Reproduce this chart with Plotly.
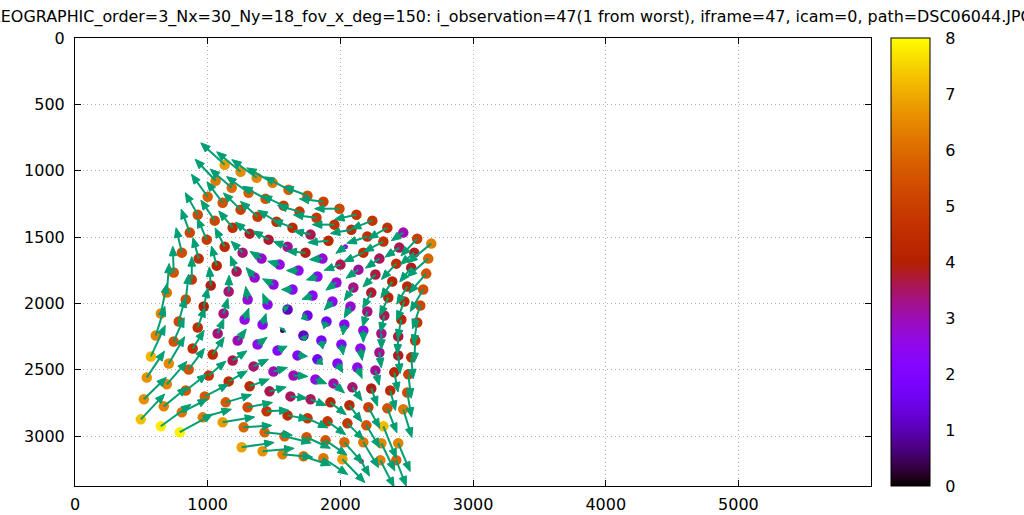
import math
import plotly.graph_objects as go

TITLE = ("LENSMODEL_SPLINED_STEREOGRAPHIC_order=3_Nx=30_Ny=18_fov_x_deg=150: "
         "i_observation=47(1 from worst), iframe=47, icam=0, path=DSC06044.JPG")
X_RANGE = [0, 5999]
Y_RANGE = [3375, 0]
X_TICKS = [0, 1000, 2000, 3000, 4000, 5000]
Y_TICKS = [0, 500, 1000, 1500, 2000, 2500, 3000]
CB_TICKS = [0, 1, 2, 3, 4, 5, 6, 7, 8]
CB_MAX = 8

# observed chessboard corners (image pixels), one list per board row
corner_x = [
    [1128, 1248, 1369, 1489, 1609, 1752, 1872, 1993, 2121, 2241, 2354, 2474, 2579, 2685],
    [1060, 1181, 1308, 1436, 1572, 1692, 1820, 1955, 2083, 2203, 2324, 2444, 2557, 2662],
    [1000, 1113, 1248, 1376, 1519, 1639, 1775, 1910, 2038, 2173, 2294, 2421, 2534, 2647],
    [925, 1053, 1188, 1316, 1459, 1602, 1737, 1865, 2000, 2136, 2264, 2391, 2504, 2624],
    [865, 993, 1128, 1263, 1406, 1542, 1684, 1827, 1970, 2098, 2233, 2361, 2482, 2602],
    [805, 932, 1068, 1218, 1354, 1496, 1639, 1790, 1940, 2076, 2203, 2331, 2459, 2579],
    [744, 880, 1023, 1158, 1301, 1451, 1602, 1752, 1895, 2030, 2173, 2309, 2436, 2564],
    [692, 835, 970, 1120, 1278, 1414, 1564, 1722, 1857, 2008, 2151, 2294, 2436, 2534],
    [647, 782, 925, 1075, 1226, 1376, 1527, 1677, 1827, 1978, 2128, 2264, 2406, 2512],
    [609, 744, 887, 1038, 1188, 1346, 1496, 1647, 1812, 1948, 2091, 2233, 2376, 2504],
    [572, 707, 857, 1008, 1158, 1316, 1466, 1624, 1775, 1925, 2068, 2211, 2354, 2474],
    [541, 692, 835, 978, 1136, 1301, 1444, 1602, 1752, 1903, 2053, 2196, 2324],
    [519, 669, 805, 963, 1113, 1271, 1429, 1579, 1745, 1888, 2030, 2173, 2309, 2436],
    [496, 647, 790, 1256, 1414, 1564, 1722, 1872, 2015, 2158, 2301, 2421],
]
corner_y = [
    [955, 1008, 1053, 1090, 1143, 1188, 1233, 1286, 1331, 1376, 1429, 1466, 1512, 1549],
    [1075, 1128, 1166, 1211, 1263, 1308, 1354, 1406, 1444, 1496, 1534, 1579, 1617, 1662],
    [1196, 1241, 1293, 1346, 1384, 1429, 1481, 1527, 1572, 1617, 1662, 1700, 1730, 1775],
    [1331, 1376, 1429, 1474, 1519, 1572, 1617, 1662, 1707, 1745, 1782, 1835, 1872, 1895],
    [1466, 1519, 1572, 1617, 1662, 1707, 1752, 1797, 1842, 1880, 1918, 1955, 1985, 2015],
    [1617, 1662, 1715, 1760, 1805, 1857, 1895, 1940, 1985, 2023, 2060, 2091, 2121, 2143],
    [1767, 1820, 1865, 1910, 1970, 2008, 2045, 2091, 2136, 2158, 2203, 2226, 2248, 2279],
    [1918, 1970, 2023, 2076, 2121, 2158, 2203, 2241, 2279, 2309, 2339, 2369, 2391, 2406],
    [2076, 2136, 2181, 2226, 2279, 2309, 2354, 2391, 2421, 2452, 2482, 2504, 2519, 2534],
    [2241, 2286, 2339, 2384, 2429, 2474, 2512, 2542, 2572, 2602, 2632, 2640, 2655, 2670],
    [2399, 2452, 2497, 2542, 2587, 2624, 2662, 2700, 2722, 2745, 2767, 2782, 2790, 2797],
    [2557, 2609, 2655, 2700, 2745, 2782, 2812, 2843, 2865, 2888, 2903, 2918, 2925],
    [2722, 2775, 2820, 2858, 2895, 2933, 2970, 3000, 3008, 3031, 3046, 3046, 3053, 3053],
    [2873, 2925, 2970, 3083, 3113, 3136, 3151, 3166, 3173, 3188, 3181, 3181],
]

# reprojection residuals (pixels)
resid_x = [
    [-5.0, -5.0, -5.2, -5.4, -5.0, -5.0, -5.0, -5.2, -4.6, -4.4, -4.0, -2.5, -3.4, -4.9],
    [-4.3, -4.5, -4.6, -4.8, -4.5, -4.6, -4.8, -4.6, -4.4, -4.3, -4.1, -3.0, -2.9, -4.4],
    [-3.4, -3.3, -3.6, -3.6, -3.9, -4.1, -3.5, -4.3, -2.0, -4.1, -2.9, -3.1, -2.4, -3.6],
    [-2.6, -2.9, -2.9, -3.0, -3.3, -3.0, -3.9, -2.7, -3.4, -2.6, -2.6, -2.4, -2.2, -2.7],
    [-1.8, -2.0, -2.0, -2.4, -2.4, -2.5, -2.5, -2.3, -2.2, -1.9, -1.8, -1.8, -1.6, -1.6],
    [-1.2, -1.2, -1.1, -1.3, -1.8, -2.3, -2.3, -2.2, -1.7, -1.3, -1.0, -0.8, -0.8, -0.8],
    [-0.2, 0.0, -0.3, 0.1, -0.4, -1.0, -0.9, -1.3, -0.6, -0.3, 0.0, 0.0, -0.2, -0.2],
    [0.5, 0.6, 0.9, 0.9, 0.9, 0.7, 0.3, 0.4, 0.3, 0.4, 0.4, 0.4, 0.4, 0.4],
    [1.3, 1.4, 1.5, 1.3, 1.8, 2.0, 2.0, 2.1, 1.1, 1.1, 1.0, 0.8, 0.8, 0.6],
    [1.9, 2.2, 2.4, 2.4, 3.0, 3.1, 2.9, 3.0, 2.4, 2.3, 2.0, 1.3, 1.1, 0.9],
    [3.0, 3.3, 3.3, 3.6, 3.9, 4.1, 3.5, 3.5, 3.3, 3.3, 2.6, 2.4, 2.0, 1.8],
    [3.7, 4.2, 4.4, 5.0, 5.4, 5.2, 4.7, 4.4, 4.3, 3.8, 3.4, 2.8, 2.7],
    [4.7, 4.9, 5.4, 6.0, 6.7, 5.9, 5.8, 5.6, 5.0, 4.5, 3.9, 3.2, 2.8, 2.5],
    [5.0, 6.3, 6.9, 6.8, 6.6, 6.3, 5.7, 5.1, 4.7, 1.7, 2.9, 2.1],
]
resid_y = [
    [-4.6, -4.2, -3.8, -3.1, -2.7, -1.9, -0.6, 0.0, 1.0, 1.7, 2.3, 1.7, 3.6, 4.0],
    [-4.5, -3.9, -3.4, -2.6, -2.1, -1.3, -0.6, 0.0, 0.8, 1.4, 2.1, 2.0, 2.5, 3.8],
    [-4.7, -4.4, -3.5, -3.2, -2.4, -1.6, -0.8, 0.4, 1.4, 1.9, 2.0, 3.3, 3.0, 4.1],
    [-4.6, -4.3, -3.5, -2.4, -1.8, -1.1, -0.3, 0.2, 1.2, 1.8, 2.6, 3.4, 3.7, 4.6],
    [-4.9, -4.5, -3.9, -2.4, -1.5, -0.7, 0.0, 0.7, 1.6, 2.7, 3.3, 3.8, 4.0, 4.9],
    [-5.2, -4.4, -4.1, -3.3, -2.1, -1.2, 0.0, 0.8, 1.8, 2.4, 3.2, 3.5, 4.1, 4.6],
    [-5.5, -4.8, -3.9, -3.4, -2.7, -2.3, -0.6, 0.7, 1.5, 2.2, 2.5, 3.3, 3.7, 4.6],
    [-6.1, -5.3, -3.9, -3.2, -2.4, -2.3, -0.4, 1.1, 1.8, 2.2, 2.5, 3.2, 3.8, 4.5],
    [-6.3, -5.0, -4.2, -3.1, -2.4, -1.5, -0.9, 0.2, 1.1, 1.9, 2.3, 3.1, 4.1, 5.0],
    [-6.1, -5.0, -3.8, -3.6, -2.0, -1.5, -0.8, 0.2, 0.9, 2.0, 2.8, 3.7, 4.2, 5.2],
    [-6.5, -5.6, -4.4, -3.0, -2.2, -1.5, -0.9, 0.4, 1.3, 2.6, 3.5, 4.4, 5.1, 5.9],
    [-5.5, -4.8, -3.4, -2.6, -1.6, -1.0, -0.2, 0.8, 2.0, 2.8, 3.4, 4.7, 6.7],
    [-4.6, -4.0, -2.8, -1.7, -1.1, -0.4, 0.6, 1.4, 2.3, 3.1, 4.4, 5.3, 5.8, 5.9],
    [-5.3, -4.6, -3.8, -1.0, -0.6, 0.6, 1.9, 3.4, 4.9, 3.1, 5.6, 5.4],
]
# (row, index) of points drawn with a small marker
small_points = [(2, 8), (7, 6), (13, 9)]

VECTOR_SCALE = 36.0          # image px drawn per pixel of residual
ARROW_COLOR = "#009e73"

# plot-area and colorbar geometry (pixels in the 1024x515 page)
PLOT_L, PLOT_R, PLOT_T, PLOT_B = 75, 871, 38, 486
CB_L, CB_R = 891, 930

# ---------------------------------------------------------------- build
px_x, px_y, err, sizes = [], [], [], []
for r in range(len(corner_x)):
    for i in range(len(corner_x[r])):
        px_x.append(corner_x[r][i])
        px_y.append(corner_y[r][i])
        err.append(math.hypot(resid_x[r][i], resid_y[r][i]))
        sizes.append(5 if (r, i) in small_points else 10.5)


def gnuplot_color(v):
    r = math.sqrt(v)
    g = v ** 3
    b = max(0.0, min(1.0, math.sin(2 * math.pi * v)))
    return "rgb(%d,%d,%d)" % (round(255 * r), round(255 * g), round(255 * b))


colorscale = [[i / 40, gnuplot_color(i / 40)] for i in range(41)]

# arrows: shaft + filled head, sizes in screen pixels converted to data units
data_per_px = (X_RANGE[1] - X_RANGE[0]) / (PLOT_R - PLOT_L)
head_len = 9.5 * data_per_px
head_half = 3.8 * data_per_px
shaft_x, shaft_y, head_x, head_y = [], [], [], []
for r in range(len(corner_x)):
    for i in range(len(corner_x[r])):
        x0, y0 = corner_x[r][i], corner_y[r][i]
        dx = resid_x[r][i] * VECTOR_SCALE
        dy = resid_y[r][i] * VECTOR_SCALE
        L = math.hypot(dx, dy)
        if L < 1e-6:
            continue
        ux, uy = dx / L, dy / L
        nx, ny = -uy, ux
        tx, ty = x0 + dx, y0 + dy
        hl = min(head_len, L * 0.8)
        bx, by = tx - ux * hl, ty - uy * hl
        shaft_x += [x0, bx + ux * hl * 0.3, None]
        shaft_y += [y0, by + uy * hl * 0.3, None]
        head_x += [tx, bx + nx * head_half, bx - nx * head_half, tx, None]
        head_y += [ty, by + ny * head_half, by - ny * head_half, ty, None]

FONT = dict(family="DejaVu Sans", size=16, color="black")
plot_w = PLOT_R - PLOT_L

fig = go.Figure()
fig.add_trace(go.Scatter(
    x=px_x, y=px_y, mode="markers",
    marker=dict(size=sizes, color=err, colorscale=colorscale, cmin=0, cmax=CB_MAX,
                opacity=1, line=dict(width=0),
                colorbar=dict(
                    thickness=CB_R - CB_L, thicknessmode="pixels",
                    len=1, lenmode="fraction",
                    x=(CB_L - PLOT_L) / plot_w, xanchor="left",
                    y=0, yanchor="bottom",
                    xpad=0, ypad=0,
                    outlinewidth=1, outlinecolor="black",
                    tickvals=CB_TICKS, ticks="outside", ticklen=12,
                    tickcolor="rgba(0,0,0,0)",
                    tickfont=FONT,
                )),
    hoverinfo="skip", showlegend=False,
))
fig.add_trace(go.Scatter(
    x=shaft_x, y=shaft_y, mode="lines",
    line=dict(color=ARROW_COLOR, width=2),
    hoverinfo="skip", showlegend=False,
))
fig.add_trace(go.Scatter(
    x=head_x, y=head_y, mode="lines", fill="toself", fillcolor=ARROW_COLOR,
    line=dict(color=ARROW_COLOR, width=1),
    hoverinfo="skip", showlegend=False,
))

# mirrored inside tick marks on the colour box
for v in CB_TICKS[1:-1]:
    yy = v / CB_MAX
    for xa, xb in ((CB_L, CB_L + 7), (CB_R - 7, CB_R)):
        fig.add_shape(type="line", xref="paper", yref="paper",
                      x0=(xa - PLOT_L) / plot_w, x1=(xb - PLOT_L) / plot_w,
                      y0=yy, y1=yy, line=dict(color="black", width=1))

axis_common = dict(
    showline=True, linecolor="black", linewidth=1, mirror="ticks",
    ticks="inside", ticklen=6, tickcolor="black", tickfont=FONT,
    showgrid=True, gridcolor="#b0b0b0", griddash="1px,3px", gridwidth=1,
    zeroline=False, automargin=False,
)
fig.update_xaxes(range=X_RANGE, tickvals=X_TICKS, ticklabelstandoff=4, **axis_common)
fig.update_yaxes(range=Y_RANGE, tickvals=Y_TICKS, ticklabelstandoff=6, **axis_common)

fig.add_annotation(
    text=TITLE, xref="paper", yref="paper",
    x=(1035 - PLOT_L) / plot_w, y=(PLOT_B - 17) / (PLOT_B - PLOT_T),
    xanchor="right", yanchor="middle", showarrow=False,
    font=dict(family="DejaVu Sans", size=15.93, color="black"),
)

fig.update_layout(
    width=1024, height=515,
    margin=dict(l=PLOT_L, r=1024 - PLOT_R, t=PLOT_T, b=515 - PLOT_B, autoexpand=False),
    paper_bgcolor="white", plot_bgcolor="white",
    font=FONT,
)

fig.write_html("out.html",
               config={"displayModeBar": False, "staticPlot": True},
               post_script="document.body.style.margin='0px';"
                           "document.body.style.overflow='hidden';")
